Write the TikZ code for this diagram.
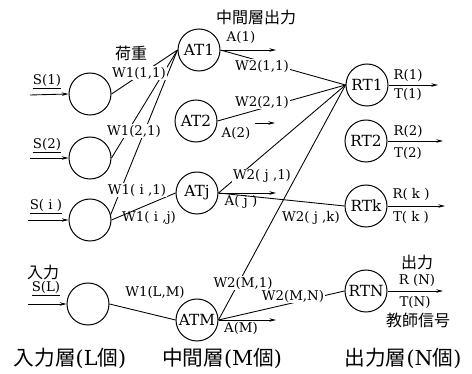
\documentclass[tikz,border=0pt]{standalone}
\usepackage{fontspec}
\setmainfont{DejaVu Serif}
\newfontfamily\cjk{Noto Sans CJK JP}
\usetikzlibrary{arrows.meta}
\begin{document}
\begin{tikzpicture}[x=0.75pt,y=-0.75pt,
  neuron/.style={circle,draw,line width=0.75pt,minimum size=31.5pt,inner sep=0pt,font=\fontsize{11.5}{12}\selectfont},
  lbl/.style={font=\fontsize{10}{11}\selectfont,inner sep=0.6pt},
  wlbl/.style={lbl,fill=white},
  jp/.style={font=\fontsize{12}{13}\cjk,inner sep=0pt},
  jpbig/.style={font=\fontsize{15.5}{17}\selectfont,inner sep=0pt},
  conn/.style={line width=0.65pt},
  arr/.style={line width=0.65pt,-{Stealth[length=5pt,width=2.6pt]}}
]
\useasboundingbox (0,0) rectangle (472,374);

% neurons
\node[neuron] (I1) at (90,94) {};
\node[neuron] (I2) at (90,158) {};
\node[neuron] (Ii) at (90,220) {};
\node[neuron] (IL) at (88,304) {};
\node[neuron] (H1) at (199,50) {AT1};
\node[neuron] (H2) at (196,121) {AT2};
\node[neuron] (Hj) at (197,193) {ATj};
\node[neuron] (HM) at (197,320) {ATM};
\node[neuron] (O1) at (367,85) {RT1};
\node[neuron] (O2) at (366,141) {RT2};
\node[neuron] (Ok) at (366,206) {RTk};
\node[neuron] (ON) at (366,291) {RTN};

% free ends
\coordinate (s1) at (30,95);
\coordinate (s2) at (30,158);
\coordinate (si) at (28,220);
\coordinate (sL) at (28,304);
\coordinate (a1) at (276,50);
\coordinate (a2s) at (255,123);
\coordinate (a2) at (275,123);
\coordinate (aj) at (276,193);
\coordinate (aM) at (276,320);
\coordinate (r1) at (438,85);
\coordinate (r2) at (443,141);
\coordinate (rk) at (445,206);
\coordinate (rN) at (443,291);

% input arrows
\draw[arr] (s1) -- (I1.west);
\draw[arr] (s2) -- (I2.west);
\draw[arr] (si) -- (Ii.west);
\draw[arr] (sL) -- (IL.west);

% input -> hidden
\draw[conn] (I1.east) -- (H1.west);
\draw[conn] (I2.east) -- (H1.west);
\draw[conn] (Ii.15) -- (H1.west);
\draw[conn] (Ii.east) -- (Hj.west);
\draw[conn] (IL.east) -- (HM.west);

% hidden -> output
\draw[conn] (H1.east) -- (O1.west);
\draw[conn] (H2.east) -- (O1.west);
\draw[conn] (Hj.east) -- (O1.west);
\draw[conn] (Hj.east) -- (Ok.west);
\draw[conn] (HM.east) -- (O1.west);
\draw[conn] (HM.east) -- (ON.west);

% hidden outputs
\draw[arr] (H1.east) -- (a1);
\draw[arr] (a2s) -- (a2);
\draw[arr] (Hj.east) -- (aj);
\draw[arr] (HM.east) -- (aM);

% outputs
\draw[arr] (O1.east) -- (r1);
\draw[arr] (O2.east) -- (r2);
\draw[arr] (Ok.east) -- (rk);
\draw[arr] (ON.east) -- (rN);

% labels: inputs
\node[lbl] (tS1) at (47,82) {\underline{S(1)}};
\node[lbl] (tS2) at (47,146) {\underline{S(2)}};
\node[lbl] (tSi) at (46,207) {\underline{S( i )}};
\node[lbl] (tSL) at (46,289) {\underline{S(L)}};
\node[jp] (tin) at (43,272) {入力};

% weights W1
\node[jp] (tw) at (131,53) {荷重};
\node[wlbl] (w111) at (139,73) {W1(1,1)};
\node[wlbl] (w121) at (134,131) {W1(2,1)};
\node[wlbl] (w1i1) at (137,190) {W1( i ,1)};
\node[lbl] (w1ij) at (149,218) {W1( i ,j)};
\node[lbl] (w1LM) at (155,292) {W1(L,M)};

% hidden labels
\node[jp] (tmid) at (256,17) {中間層出力};
\node[lbl] (tA1) at (241,37) {A(1)};
\node[lbl] (tA2) at (236,133) {A(2)};
\node[lbl] (tAj) at (241,202) {A( j )};
\node[lbl] (tAM) at (241,328) {A(M)};

% weights W2
\node[wlbl] (w211) at (262,66) {W2(1,1)};
\node[wlbl] (w221) at (262,102) {W2(2,1)};
\node[wlbl] (w2j1) at (262,176) {W2( j ,1)};
\node[lbl] (w2jk) at (311,218) {W2( j ,k)};
\node[wlbl] (w2M1) at (243,283) {W2(M,1)};
\node[wlbl] (w2MN) at (293,296) {W2(M,N)};

% output labels
\node[lbl] (tR1) at (408,75) {R(1)};
\node[lbl] (tT1) at (408,94) {T(1)};
\node[lbl] (tR2) at (408,131) {R(2)};
\node[lbl] (tT2) at (408,153) {T(2)};
\node[lbl] (tRk) at (411,194) {R( k )};
\node[lbl] (tTk) at (411,217) {T( k )};
\node[jp] (tout) at (417,262) {出力};
\node[lbl] (tRN) at (417,280) {R (N)};
\node[lbl] (tTN) at (415,302) {T(N)};
\node[jp] (tteach) at (418,320) {教師信号};

% layer captions
\node[jpbig] (cap1) at (70,358) {{\cjk 入力層}(L{\cjk 個})};
\node[jpbig] (cap2) at (222,358) {{\cjk 中間層}(M{\cjk 個})};
\node[jpbig] (cap3) at (403,358) {{\cjk 出力層}(N{\cjk 個})};
\end{tikzpicture}
\end{document}
